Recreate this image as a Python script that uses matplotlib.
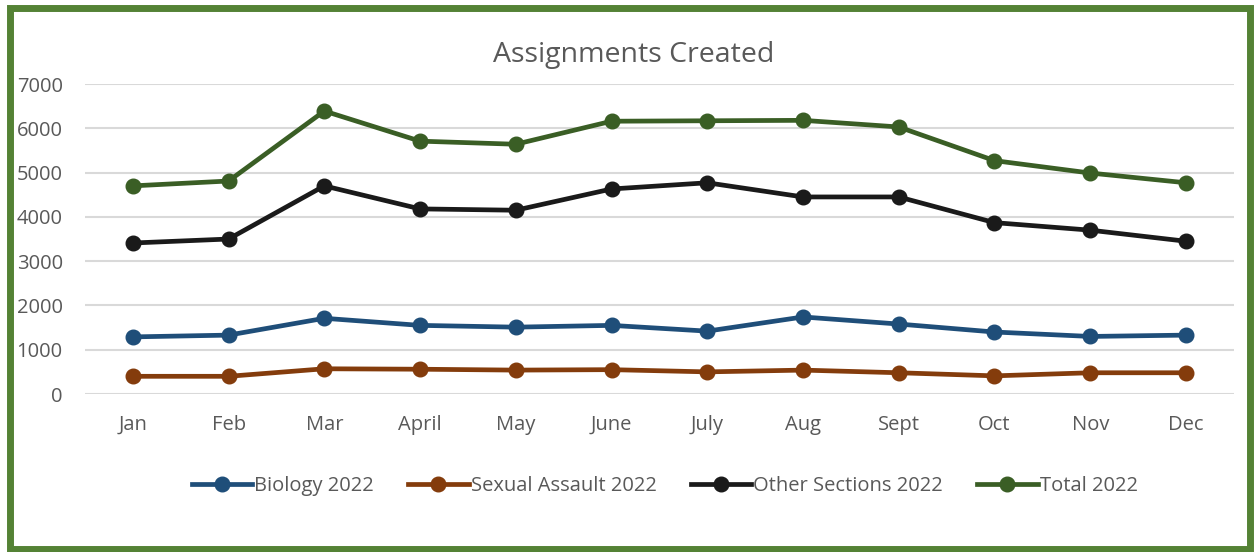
import matplotlib
matplotlib.use('Agg')
from matplotlib import pyplot as plt
from matplotlib.patches import Rectangle

months = ['Jan', 'Feb', 'Mar', 'April', 'May', 'June', 'July', 'Aug', 'Sept', 'Oct', 'Nov', 'Dec']
biology = [1290, 1330, 1710, 1550, 1510, 1550, 1420, 1740, 1580, 1400, 1300, 1330]
sexual_assault = [400, 400, 570, 560, 540, 550, 500, 540, 480, 410, 480, 480]
other_sections = [3410, 3500, 4700, 4180, 4150, 4630, 4770, 4450, 4450, 3870, 3700, 3450]
total = [4700, 4810, 6390, 5710, 5640, 6160, 6170, 6180, 6030, 5270, 4990, 4770]
yticks = [0, 1000, 2000, 3000, 4000, 5000, 6000, 7000]

plt.rcParams['font.family'] = ['Open Sans', 'DejaVu Sans']

fig = plt.figure(figsize=(12.59, 5.52), dpi=100)
ax = fig.add_axes([0.0675, 0.2862, 0.9125, 0.5616])

series = [
    ('Biology 2022', biology, '#1F4E79'),
    ('Sexual Assault 2022', sexual_assault, '#843C0C'),
    ('Other Sections 2022', other_sections, '#1A1A1A'),
    ('Total 2022', total, '#3A5E25'),
]
x = range(len(months))
for name, vals, col in series:
    ax.plot(x, vals, color=col, lw=3.4, marker='o', ms=10.5, label=name, zorder=3)

ax.set_xlim(-0.5, len(months) - 0.5)
ax.set_ylim(0, 7000)
ax.set_yticks(yticks)
ax.set_xticks(list(x))
ax.set_xticklabels(months)
ax.grid(axis='y', color='#D9D9D9', lw=1.5)
ax.set_axisbelow(True)
for s in ax.spines.values():
    s.set_visible(False)
ax.tick_params(axis='both', length=0, labelsize=14.5, labelcolor='#595959')
ax.tick_params(axis='y', pad=16)
ax.tick_params(axis='x', pad=15)

fig.text(0.503, 0.9, 'Assignments Created', ha='center', va='center', fontsize=20.5, color='#595959')

fig.legend(loc='center', bbox_to_anchor=(0.528, 0.12), ncol=4, frameon=False,
           fontsize=14.5, labelcolor='#595959', handlelength=3.0, handletextpad=0.1,
           columnspacing=1.7)

fig.patches.append(Rectangle((0.008, 0.006), 0.985, 0.98, transform=fig.transFigure,
                             fill=False, edgecolor='#548235', lw=5))

fig.savefig('out.png', dpi=100)
